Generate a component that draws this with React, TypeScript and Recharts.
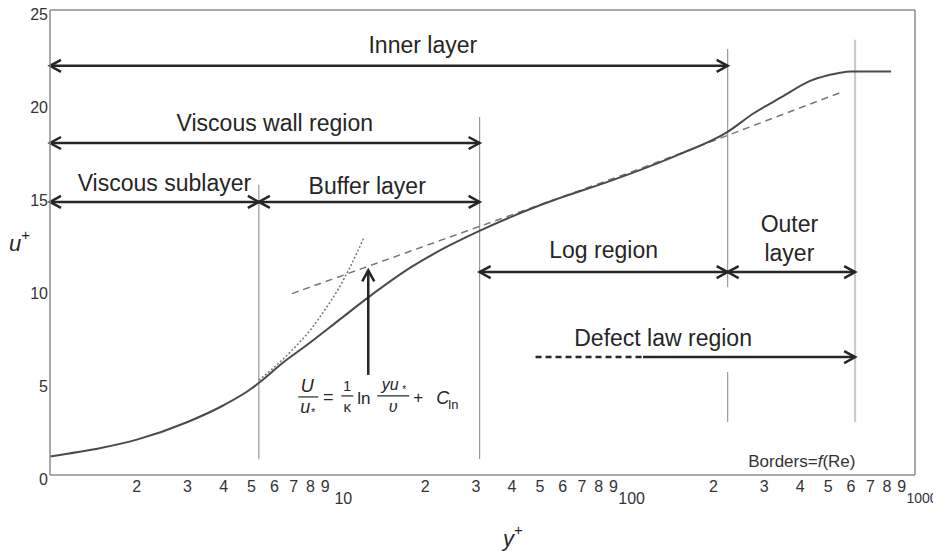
import React from "react";
import {
    LineChart,
    Line,
    XAxis,
    YAxis,
    ReferenceLine,
    ReferenceDot,
} from "recharts";

// mean velocity profile u+ against y+
const profileYPlus = [1, 1.5, 2, 3, 4, 5, 5.4, 6.5, 7.8, 10, 12.7, 18, 24, 30.6, 50, 95, 150, 224, 276, 343, 435, 540, 600, 826];
const profileUPlus = [1.0, 1.45, 1.9, 2.85, 3.75, 4.65, 5.05, 6.1, 7.0, 8.3, 9.55, 11.2, 12.3, 13.1, 14.5, 16.0, 17.2, 18.45, 19.45, 20.3, 21.2, 21.6, 21.7, 21.7];

// log law (dashed)
const logLawYPlus = [6.9, 100, 560];
const logLawUPlus = [9.75, 16.2, 20.6];

// viscous sublayer u+ = y+ continued (dotted)
const linearYPlus = [5.3, 6, 7, 8, 9, 10, 11, 12.3];
const linearUPlus = [5.1, 5.8, 6.8, 7.8, 8.9, 10.0, 11.2, 12.8];

// region borders in y+
const borders = [5.3, 30.9, 224, 620];

const yTicks = [0, 5, 10, 15, 20, 25];
const xTicks = [2, 3, 4, 5, 6, 7, 8, 9, 10, 20, 30, 40, 50, 60, 70, 80, 90, 100, 200, 300, 400, 500, 600, 700, 800, 900, 1000];
const xTickLabels = ["2", "3", "4", "5", "6", "7", "8", "9", "10", "2", "3", "4", "5", "6", "7", "8", "9", "100", "2", "3", "4", "5", "6", "7", "8", "9", "1000"];
const decades = [10, 100, 1000];

const toPoints = (xs: number[], ys: number[]) => xs.map((x, i) => ({ x, y: ys[i] }));
const profile = toPoints(profileYPlus, profileUPlus);
const logLaw = toPoints(logLawYPlus, logLawUPlus);
const linear = toPoints(linearYPlus, linearUPlus);

const FONT = "'Liberation Sans', Arial, Helvetica, sans-serif";
const INK = "#262626";

const XTick = ({ x, y, payload }: any) => {
    const v = payload.value;
    const big = decades.includes(v);
    const last = v === 1000;
    return (
        <text
            x={x + (last ? 7 : big ? 5 : 0)}
            y={y + (big ? 23 : 11)}
            textAnchor="middle"
            dominantBaseline="central"
            fontSize={last ? 14 : 16}
            fontFamily={FONT}
            fill="#333"
        >
            {xTickLabels[xTicks.indexOf(v)]}
        </text>
    );
};

const YTick = ({ x, y, payload }: any) => (
    <text
        x={x - 2}
        y={y + 4}
        textAnchor="end"
        dominantBaseline="central"
        fontSize={16}
        fontFamily={FONT}
        fill="#333"
    >
        {payload.value}
    </text>
);

type Lbl = { text: string; dx: number; dy: number };

// line with chevron heads, plus optional text above it
const arrow =
    (o: { start?: boolean; end?: boolean; dash?: string; labels?: Lbl[] }) =>
    (p: any) => {
        const { x1, y1, x2, y2 } = p;
        const vertical = Math.abs(x2 - x1) < 1;
        const midX = (x1 + x2) / 2;
        const heads: string[] = [];
        if (vertical) {
            if (o.end) heads.push(`${x2 - 6},${y2 + 11} ${x2},${y2} ${x2 + 6},${y2 + 11}`);
        } else {
            if (o.start) heads.push(`${x1 + 11},${y1 - 6} ${x1},${y1} ${x1 + 11},${y1 + 6}`);
            if (o.end) heads.push(`${x2 - 11},${y2 - 6} ${x2},${y2} ${x2 - 11},${y2 + 6}`);
        }
        return (
            <g>
                <line
                    x1={x1}
                    y1={y1}
                    x2={x2}
                    y2={y2}
                    stroke={INK}
                    strokeWidth={2.5}
                    strokeDasharray={o.dash}
                />
                {heads.map((h, i) => (
                    <polyline key={i} points={h} fill="none" stroke={INK} strokeWidth={2.5} />
                ))}
                {(o.labels || []).map((l, i) => (
                    <text
                        key={i}
                        x={midX + l.dx}
                        y={y1 + l.dy}
                        textAnchor="middle"
                        fontSize={23}
                        fontFamily={FONT}
                        fill={INK}
                    >
                        {l.text}
                    </text>
                ))}
            </g>
        );
    };

// log-law formula drawn under the vertical arrow
const formulaArrow = (p: any) => {
    const { x1, y1 } = p;
    const t = (x: number, y: number, s: number, c: React.ReactNode, it = false, anchor = "middle") => (
        <text
            x={x1 + x}
            y={y1 + y}
            fontSize={s}
            fontStyle={it ? "italic" : "normal"}
            textAnchor={anchor as any}
            fontFamily={FONT}
            fill={INK}
        >
            {c}
        </text>
    );
    const bar = (a: number, b: number, y: number) => (
        <line x1={x1 + a} x2={x1 + b} y1={y1 + y} y2={y1 + y} stroke={INK} strokeWidth={1.2} />
    );
    return (
        <g>
            {arrow({ end: true })(p)}
            {t(-61, 17, 18, "U", true)}
            {bar(-70, -50, 22)}
            {t(-63, 38, 18, "u", true)}
            {t(-55, 41, 11, "*")}
            {t(-40, 28, 18, "=")}
            {t(-21, 16, 14, "1")}
            {bar(-27, -15, 21)}
            {t(-21, 37, 15, "κ")}
            {t(-11, 29, 17, "ln", false, "start")}
            {t(22, 15, 16, "yu", true)}
            {t(36, 18, 10, "*")}
            {bar(9, 41, 21)}
            {t(25, 37, 16, "υ", true)}
            {t(50, 28, 17, "+")}
            {t(68, 29, 18, "C", true, "start")}
            {t(80, 34, 13, "ln", false, "start")}
        </g>
    );
};

const textDot =
    (text: React.ReactNode, size: number) =>
    ({ cx, cy }: any) => (
        <text x={cx} y={cy} textAnchor="middle" dominantBaseline="central" fontSize={size} fontFamily={FONT} fill="#333">
            {text}
        </text>
    );

const innerY = 22.0;
const wallY = 17.85;
const subY = 14.68;
const logY = 10.91;
const defectY = 6.34;

export default function App() {
    const [b1, b2, b3, b4] = borders;
    return (
        <div style={{ position: "relative", top: -4 }}>
            <LineChart width={933} height={548} margin={{ top: 6, right: 26, bottom: 0, left: 0 }}>
                <XAxis
                    dataKey="x"
                    type="number"
                    scale="log"
                    domain={[1, 1000]}
                    allowDataOverflow
                    ticks={xTicks}
                    interval={0}
                    tick={<XTick />}
                    tickLine={false}
                    tickSize={0}
                    tickMargin={0}
                    height={77}
                    axisLine={{ stroke: "#8c8c8c", strokeWidth: 1.5 }}
                    label={{
                        content: () => (
                            <text x={495} y={542} fontSize={22} fontFamily={FONT} fill={INK}>
                                <tspan fontStyle="italic">y</tspan>
                                <tspan fontSize={15} dy={-11}>+</tspan>
                            </text>
                        ),
                    }}
                />
                <YAxis
                    type="number"
                    domain={[0, 25]}
                    ticks={yTicks}
                    interval={0}
                    tick={<YTick />}
                    tickLine={false}
                    tickSize={0}
                    tickMargin={0}
                    width={42}
                    axisLine={{ stroke: "#8c8c8c", strokeWidth: 1.5 }}
                    label={{
                        content: () => (
                            <text x={1} y={247} fontSize={22} fontFamily={FONT} fill={INK}>
                                <tspan fontStyle="italic">u</tspan>
                                <tspan fontSize={15} dy={-11}>+</tspan>
                            </text>
                        ),
                    }}
                />

                {/* frame */}
                <ReferenceLine y={25} stroke="#8c8c8c" strokeWidth={1.5} />
                <ReferenceLine x={1000} stroke="#8c8c8c" strokeWidth={1.5} />

                {/* region borders */}
                <ReferenceLine segment={[{ x: b1, y: 0.86 }, { x: b1, y: 15.6 }]} stroke="#999" strokeWidth={1.2} />
                <ReferenceLine segment={[{ x: b2, y: 0.86 }, { x: b2, y: 19.25 }]} stroke="#999" strokeWidth={1.2} />
                <ReferenceLine segment={[{ x: b3, y: 2.85 }, { x: b3, y: 5.54 }]} stroke="#999" strokeWidth={1.2} />
                <ReferenceLine segment={[{ x: b3, y: 10.1 }, { x: b3, y: 22.9 }]} stroke="#999" strokeWidth={1.2} />
                <ReferenceLine segment={[{ x: b4, y: 2.85 }, { x: b4, y: 23.4 }]} stroke="#c8c8c8" strokeWidth={2} />

                <Line data={linear} dataKey="y" type="monotone" stroke="#777" strokeWidth={1.5} strokeDasharray="2 2" dot={false} isAnimationActive={false} />
                <Line data={logLaw} dataKey="y" type="linear" stroke="#777" strokeWidth={1.5} strokeDasharray="7 5" dot={false} isAnimationActive={false} />
                <Line data={profile} dataKey="y" type="monotone" stroke="#4a4a4a" strokeWidth={2} dot={false} isAnimationActive={false} />

                {/* region arrows */}
                <ReferenceLine
                    segment={[{ x: 1, y: innerY }, { x: b3, y: innerY }]}
                    shape={arrow({ start: true, end: true, labels: [{ text: "Inner layer", dx: 34, dy: -13 }] })}
                />
                <ReferenceLine
                    segment={[{ x: 1, y: wallY }, { x: b2, y: wallY }]}
                    shape={arrow({ start: true, end: true, labels: [{ text: "Viscous wall region", dx: 10, dy: -12 }] })}
                />
                <ReferenceLine
                    segment={[{ x: 1, y: subY }, { x: b1, y: subY }]}
                    shape={arrow({ start: true, end: true, labels: [{ text: "Viscous sublayer", dx: 10, dy: -11 }] })}
                />
                <ReferenceLine
                    segment={[{ x: b1, y: subY }, { x: b2, y: subY }]}
                    shape={arrow({ start: true, end: true, labels: [{ text: "Buffer layer", dx: -2, dy: -8 }] })}
                />
                <ReferenceLine
                    segment={[{ x: b2, y: logY }, { x: b3, y: logY }]}
                    shape={arrow({ start: true, end: true, labels: [{ text: "Log region", dx: 0, dy: -14 }] })}
                />
                <ReferenceLine
                    segment={[{ x: b3, y: logY }, { x: b4, y: logY }]}
                    shape={arrow({
                        start: true,
                        end: true,
                        labels: [
                            { text: "Outer", dx: -2, dy: -40 },
                            { text: "layer", dx: -2, dy: -11 },
                        ],
                    })}
                />
                <ReferenceLine
                    segment={[{ x: 48.3, y: defectY }, { x: 114, y: defectY }]}
                    shape={arrow({ dash: "6 4" })}
                />
                <ReferenceLine
                    segment={[{ x: 114, y: defectY }, { x: b4, y: defectY }]}
                    shape={arrow({ end: true, labels: [{ text: "Defect law region", dx: -86, dy: -11 }] })}
                />

                {/* arrow to log law with its formula */}
                <ReferenceLine segment={[{ x: 12.7, y: 5.38 }, { x: 12.7, y: 11.0 }]} shape={formulaArrow} />

                <ReferenceDot
                    x={405}
                    y={0.75}
                    r={0}
                    shape={textDot(
                        <>
                            Borders=<tspan fontStyle="italic">f</tspan>(Re)
                        </>,
                        17
                    )}
                />
            </LineChart>
        </div>
    );
}
